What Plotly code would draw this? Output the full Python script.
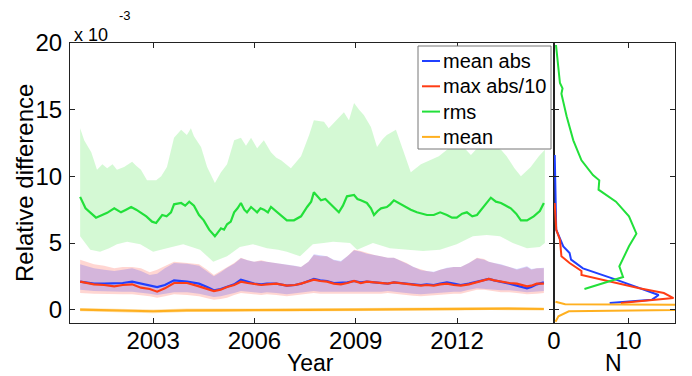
import plotly.graph_objects as go

W, H = 692, 376

# rms (green) time series
rms_year = [2000.84, 2001.00, 2001.31, 2001.50, 2001.64, 2001.85, 2002.05, 2002.20, 2002.35, 2002.50,
            2002.64, 2002.80, 2002.97, 2003.09, 2003.27, 2003.40, 2003.53, 2003.62, 2003.83, 2003.95,
            2004.07, 2004.21, 2004.36, 2004.50, 2004.66, 2004.83, 2005.01, 2005.10, 2005.19, 2005.30,
            2005.40, 2005.50, 2005.60, 2005.70, 2005.78, 2005.90, 2006.08, 2006.18, 2006.28, 2006.40,
            2006.49, 2006.67, 2006.80, 2006.96, 2007.17, 2007.38, 2007.56, 2007.68, 2007.76, 2007.88,
            2007.97, 2008.10, 2008.27, 2008.40, 2008.50, 2008.62, 2008.74, 2008.95, 2009.05, 2009.15,
            2009.33, 2009.45, 2009.54, 2009.65, 2009.75, 2009.92, 2010.02, 2010.13, 2010.34, 2010.50,
            2010.63, 2010.81, 2010.95, 2011.11, 2011.31, 2011.50, 2011.70, 2011.85, 2011.99, 2012.15,
            2012.29, 2012.45, 2012.59, 2012.79, 2012.90, 2013.00, 2013.15, 2013.30, 2013.45, 2013.59,
            2013.75, 2013.89, 2014.07, 2014.27, 2014.45, 2014.57]
rms_val = [8.46, 7.6, 6.9, 7.1, 7.26, 7.6, 7.3, 7.5, 7.7, 7.5,
           7.26, 7.0, 6.6, 6.5, 7.1, 7.0, 7.3, 7.9, 8.0, 7.8,
           8.1, 7.8, 7.1, 6.7, 6.0, 5.5, 6.1, 6.0, 6.4, 6.6,
           7.3, 7.6, 8.0, 7.5, 7.3, 7.7, 7.3, 7.6, 7.5, 7.3,
           7.7, 7.3, 7.0, 6.7, 6.7, 7.0, 7.7, 8.1, 8.8, 8.5,
           8.2, 8.3, 7.9, 7.6, 7.3, 7.8, 8.5, 8.6, 8.3, 8.2,
           8.0, 7.6, 7.1, 7.4, 7.6, 7.7, 7.9, 8.2, 7.9, 7.7,
           7.5, 7.3, 7.2, 7.1, 7.1, 7.3, 7.1, 6.9, 6.9, 7.2,
           7.3, 7.0, 7.1, 7.7, 8.1, 8.4, 8.1, 8.0, 7.8, 7.6,
           7.2, 6.7, 6.7, 7.0, 7.4, 8.0]

rms_hi_year = [2000.84, 2000.96, 2001.17, 2001.34, 2001.50, 2001.64, 2001.80, 2001.93, 2002.14, 2002.38,
               2002.50, 2002.64, 2002.82, 2003.09, 2003.24, 2003.41, 2003.62, 2003.83, 2004.00, 2004.12,
               2004.21, 2004.42, 2004.60, 2004.83, 2005.01, 2005.19, 2005.40, 2005.60, 2005.75, 2005.90,
               2006.08, 2006.28, 2006.49, 2006.65, 2006.79, 2007.08, 2007.38, 2007.62, 2007.76, 2008.06,
               2008.20, 2008.36, 2008.50, 2008.65, 2008.80, 2008.95, 2009.10, 2009.24, 2009.45, 2009.63,
               2009.80, 2009.92, 2010.19, 2010.43, 2010.63, 2010.93, 2011.22, 2011.46, 2011.70, 2011.90,
               2012.11, 2012.41, 2012.70, 2013.09, 2013.30, 2013.47, 2013.70, 2013.89, 2014.18, 2014.42,
               2014.60]
rms_hi = [13.6, 12.7, 11.8, 10.5, 10.9, 10.6, 10.9, 10.5, 10.7, 11.1,
          10.8, 10.5, 9.7, 9.7, 10.0, 10.7, 12.9, 13.5, 13.1, 13.6,
          13.0, 12.2, 10.7, 9.5, 10.3, 10.9, 12.7, 12.9, 12.3, 12.9,
          12.1, 12.7, 11.8, 11.4, 11.2, 10.6, 11.5, 13.1, 14.2, 14.1,
          13.6, 14.0, 14.4, 14.8, 14.2, 15.5, 15.0, 14.6, 13.7, 12.2,
          12.8, 13.1, 13.5, 11.8, 10.3, 10.9, 11.2, 11.5, 12.0, 12.6,
          12.4, 11.6, 12.4, 12.2, 12.0, 11.5, 10.6, 10.0, 10.7, 11.5,
          12.0]

rms_lo_year = [2000.84, 2001.14, 2001.43, 2001.70, 2001.93, 2002.23, 2002.62, 2003.00, 2003.20, 2003.41,
               2003.89, 2004.15, 2004.39, 2004.78, 2005.19, 2005.57, 2005.96, 2006.37, 2006.70, 2006.96,
               2007.35, 2007.73, 2008.05, 2008.33, 2008.83, 2009.04, 2009.51, 2010.01, 2010.51, 2010.99,
               2011.49, 2011.99, 2012.47, 2012.88, 2013.27, 2013.65, 2014.07, 2014.45, 2014.60]
rms_lo = [5.5, 4.5, 4.35, 4.6, 4.9, 5.1, 4.9, 4.35, 4.5, 4.6,
          4.9, 4.7, 4.5, 3.6, 4.0, 4.7, 4.9, 4.6, 4.5, 4.35,
          4.0, 4.9, 5.0, 5.1, 5.0, 4.5, 5.0, 4.6, 4.5, 4.4,
          4.5, 4.9, 5.5, 5.6, 5.5, 5.0, 4.6, 4.7, 5.0]

# mean abs (blue) and max abs/10 (red), shared time grid
ab_year = [2000.84, 2001.25, 2001.55, 2001.85, 2002.10, 2002.38, 2002.64, 2002.90, 2003.12, 2003.35,
           2003.62, 2004.01, 2004.36, 2004.60, 2004.80, 2005.00, 2005.19, 2005.40, 2005.60, 2005.80,
           2005.99, 2006.20, 2006.37, 2006.65, 2006.96, 2007.20, 2007.38, 2007.60, 2007.76, 2007.95,
           2008.15, 2008.35, 2008.56, 2008.75, 2008.95, 2009.15, 2009.33, 2009.55, 2009.75, 2009.95,
           2010.13, 2010.30, 2010.51, 2010.70, 2010.93, 2011.10, 2011.31, 2011.50, 2011.70, 2011.90,
           2012.11, 2012.35, 2012.59, 2012.80, 2012.94, 2013.10, 2013.30, 2013.55, 2013.77, 2014.07,
           2014.20, 2014.36, 2014.57]
max_val = [2.1, 1.9, 1.85, 1.75, 1.85, 1.9, 1.65, 1.55, 1.35, 1.6,
           2.0, 2.0, 1.75, 1.55, 1.4, 1.5, 1.7, 1.85, 2.1, 2.0,
           1.95, 1.85, 1.9, 1.95, 1.8, 1.85, 1.95, 2.1, 2.25, 2.15,
           2.1, 1.95, 1.9, 2.0, 2.15, 2.0, 2.1, 2.05, 2.0, 1.95,
           2.05, 2.0, 1.9, 1.85, 1.8, 1.85, 1.8, 1.9, 1.95, 1.85,
           1.8, 1.9, 2.05, 2.2, 2.3, 2.2, 2.1, 2.0, 1.95, 1.75,
           1.8, 1.95, 1.95]
max_hi = [3.75, 3.4, 3.3, 3.1, 3.2, 3.2, 3.1, 2.8, 3.0, 3.3,
          3.6, 3.5, 3.4, 3.0, 2.6, 2.9, 3.2, 3.5, 3.9, 3.7,
          3.6, 3.7, 3.6, 3.5, 3.4, 3.3, 3.2, 3.6, 4.1, 4.0,
          4.0, 3.7, 3.6, 4.0, 4.5, 4.4, 4.25, 4.1, 4.0, 3.9,
          3.9, 3.7, 3.5, 3.2, 3.0, 2.9, 2.8, 3.0, 3.1, 3.2,
          3.2, 3.5, 3.9, 3.8, 3.6, 3.5, 3.4, 3.2, 3.0, 3.2,
          3.0, 3.1, 3.1]
max_lo = [1.25, 1.2, 1.2, 1.15, 1.15, 1.15, 1.1, 1.0, 0.9, 1.0,
          1.15, 1.1, 1.0, 0.85, 0.75, 0.8, 0.9, 1.1, 1.25, 1.2,
          1.15, 1.1, 1.15, 1.1, 1.0, 1.05, 1.1, 1.2, 1.25, 1.2,
          1.2, 1.15, 1.15, 1.2, 1.2, 1.15, 1.15, 1.2, 1.2, 1.25,
          1.25, 1.15, 1.1, 1.05, 1.0, 1.0, 1.05, 1.1, 1.15, 1.2,
          1.2, 1.35, 1.5, 1.5, 1.45, 1.4, 1.3, 1.3, 1.25, 1.15,
          1.15, 1.2, 1.25]
mabs_val = [2.1, 1.95, 1.95, 1.95, 2.0, 2.1, 1.95, 1.85, 1.7, 1.85,
            2.2, 2.1, 1.95, 1.7, 1.45, 1.55, 1.7, 1.9, 2.25, 2.1,
            1.95, 1.9, 1.95, 1.95, 1.8, 1.85, 1.95, 2.15, 2.3, 2.2,
            2.15, 2.0, 2.0, 2.05, 2.15, 2.05, 2.1, 2.05, 2.0, 1.95,
            2.05, 2.0, 1.95, 1.9, 1.85, 1.9, 1.85, 1.95, 2.05, 1.95,
            1.85, 1.95, 2.1, 2.25, 2.3, 2.2, 2.1, 1.95, 1.8, 1.6,
            1.7, 1.9, 2.05]
mabs_hi = [3.4, 3.1, 3.0, 2.9, 3.0, 3.1, 2.9, 2.6, 2.7, 3.1,
           3.5, 3.45, 3.3, 2.9, 2.5, 2.8, 3.15, 3.45, 3.85, 3.7,
           3.6, 3.65, 3.6, 3.5, 3.4, 3.3, 3.2, 3.6, 4.15, 4.05,
           4.0, 3.75, 3.65, 4.0, 4.45, 4.35, 4.2, 4.1, 4.0, 3.9,
           3.9, 3.7, 3.45, 3.2, 2.95, 2.9, 2.85, 3.0, 3.15, 3.2,
           3.2, 3.5, 3.85, 3.75, 3.6, 3.5, 3.4, 3.2, 3.05, 3.25,
           3.05, 3.1, 3.15]
mabs_lo = [1.5, 1.4, 1.4, 1.35, 1.35, 1.35, 1.3, 1.2, 1.1, 1.2,
           1.3, 1.3, 1.2, 1.05, 0.95, 1.0, 1.1, 1.25, 1.4, 1.35,
           1.3, 1.25, 1.3, 1.25, 1.15, 1.2, 1.25, 1.35, 1.4, 1.35,
           1.35, 1.3, 1.3, 1.35, 1.35, 1.3, 1.3, 1.35, 1.35, 1.4,
           1.4, 1.3, 1.25, 1.2, 1.15, 1.15, 1.2, 1.25, 1.3, 1.35,
           1.35, 1.5, 1.6, 1.6, 1.55, 1.5, 1.45, 1.45, 1.4, 1.3,
           1.3, 1.35, 1.4]

# mean (orange)
mean_year = [2000.84, 2001.5, 2002.5, 2003.0, 2004.0, 2005.0, 2006.0, 2007.0, 2008.0, 2009.0,
             2010.0, 2011.0, 2012.0, 2013.0, 2013.5, 2014.57]
mean_val = [0.0, -0.05, -0.1, -0.12, -0.05, -0.05, 0.0, -0.02, 0.0, 0.0,
            0.02, 0.03, 0.05, 0.1, 0.08, 0.05]
mean_hi = [0.12, 0.08, 0.04, 0.02, 0.08, 0.08, 0.12, 0.1, 0.12, 0.12,
           0.14, 0.15, 0.17, 0.22, 0.2, 0.17]
mean_lo = [-0.12, -0.18, -0.24, -0.26, -0.18, -0.18, -0.12, -0.14, -0.12, -0.12,
           -0.1, -0.09, -0.07, -0.02, -0.04, -0.07]

# distributions (right panel): counts N against value
h_rms_n = [0.27, 0.8, 1.15, 1.0, 1.7, 2.6, 3.7, 5.25, 6.1, 6.0, 8.35, 10.1, 11.1, 10.1, 8.8, 9.3, 4.1]
h_rms_v = [19.85, 17.0, 16.6, 16.2, 14.5, 12.7, 11.2, 10.1, 9.7, 9.0, 8.1, 7.0, 5.7, 4.75, 3.25, 2.45, 1.55]
h_max_n = [0.1, 0.3, 0.8, 1.0, 2.1, 3.7, 3.7, 6.35, 11.5, 14.8, 16.1, 9.0]
h_max_v = [8.0, 6.0, 5.25, 4.0, 3.5, 2.9, 2.6, 2.25, 1.6, 1.25, 0.87, 0.5]
h_mabs_n = [0.1, 0.3, 1.25, 2.1, 2.3, 3.9, 8.35, 14.1, 13.2, 7.5]
h_mabs_v = [11.6, 6.0, 4.75, 4.25, 3.75, 3.1, 2.25, 1.1, 0.75, 0.5]
h_mean_n = [0.2, 1.5, 60, 2.0, 0.6, 0.2]
h_mean_v = [0.6, 0.4, 0.25, -0.12, -0.5, -0.9]

BLUE, RED, GREEN, ORANGE = "#2040ff", "#ff3c14", "#22e03a", "#ffb020"
FONT = "Liberation Sans, Arial, sans-serif"


def band(years, hi, years_lo, lo, color, xa="x", ya="y"):
    return go.Scatter(
        x=list(years) + list(years_lo)[::-1],
        y=list(hi) + list(lo)[::-1],
        fill="toself", fillcolor=color, mode="lines", line=dict(width=0),
        hoverinfo="skip", showlegend=False, xaxis=xa, yaxis=ya,
    )


fig = go.Figure()
fig.add_trace(band(rms_hi_year, rms_hi, rms_lo_year, rms_lo, "rgba(0,220,0,0.17)"))
fig.add_trace(band(ab_year, max_hi, ab_year, max_lo, "rgba(255,50,30,0.2)"))
fig.add_trace(band(ab_year, mabs_hi, ab_year, mabs_lo, "rgba(40,50,255,0.2)"))
fig.add_trace(band(mean_year, mean_hi, mean_year, mean_lo, "rgba(255,176,32,0.35)"))

for xs, ys, c in [(ab_year, mabs_val, BLUE), (ab_year, max_val, RED),
                  (rms_year, rms_val, GREEN), (mean_year, mean_val, ORANGE)]:
    fig.add_trace(go.Scatter(x=xs, y=ys, mode="lines", line=dict(color=c, width=2.2),
                             showlegend=False))

for xs, ys, c in [(h_mabs_n, h_mabs_v, BLUE), (h_max_n, h_max_v, RED),
                  (h_rms_n, h_rms_v, GREEN), (h_mean_n, h_mean_v, ORANGE)]:
    fig.add_trace(go.Scatter(x=xs, y=ys, mode="lines", line=dict(color=c, width=2),
                             showlegend=False, xaxis="x2", yaxis="y2"))

ydom = [1 - 323 / H, 1 - 43 / H]
axis_common = dict(showgrid=False, zeroline=False, showline=True, linecolor="#222",
                   linewidth=1.2, ticks="inside", ticklen=5, tickcolor="#222",
                   automargin=False,
                   tickfont=dict(family=FONT, size=24, color="black"))

fig.update_layout(
    width=W, height=H,
    margin=dict(l=0, r=0, t=0, b=0, pad=0),
    paper_bgcolor="white", plot_bgcolor="white",
    showlegend=False,
    xaxis=dict(domain=[70 / W, 554 / W], range=[2000.54, 2014.87],
               tickvals=[2003, 2006, 2009, 2012], mirror="ticks",
               ticklabelstandoff=-4, **axis_common),
    yaxis=dict(domain=ydom, range=[-1, 20], tickvals=[0, 5, 10, 15, 20],
               mirror="ticks", ticklabelstandoff=2, **axis_common),
    xaxis2=dict(domain=[554 / W, 675 / W], range=[0, 16.3], tickvals=[0, 10],
                anchor="y2", mirror="ticks", ticklabelstandoff=-4, **axis_common),
    yaxis2=dict(domain=ydom, range=[-1, 20], tickvals=[0, 5, 10, 15, 20],
                anchor="x2", showticklabels=False, mirror="ticks", **axis_common),
)

ann = [
    dict(text="Relative difference", x=24 / W, y=1 - 183 / H, textangle=-90, font_size=24),
    dict(text="Year", x=310 / W, y=1 - 363 / H, font_size=23),
    dict(text="N", x=613 / W, y=1 - 363 / H, font_size=23),
    dict(text="x 10", x=72 / W, y=1 - 35 / H, xanchor="left", font_size=18),
    dict(text="-3", x=117 / W, y=1 - 16 / H, xanchor="left", font_size=13),
]
for a in ann:
    a.setdefault("xanchor", "center")
    fig.add_annotation(xref="paper", yref="paper", showarrow=False, yanchor="middle",
                       font=dict(family=FONT, size=a.pop("font_size"), color="black"), **a)

# legend box drawn by hand (MATLAB style: short line samples)
fig.add_shape(type="rect", xref="paper", yref="paper", x0=418 / W, x1=551 / W,
              y0=1 - 149 / H, y1=1 - 46 / H, line=dict(color="#777", width=1),
              fillcolor="white", layer="above")
legend_items = [("mean abs", BLUE), ("max abs/10", RED), ("rms", GREEN), ("mean", ORANGE)]
for i, (name, c) in enumerate(legend_items):
    yy = 1 - (61 + 25.3 * i) / H
    fig.add_shape(type="line", xref="paper", yref="paper", x0=422 / W, x1=440 / W,
                  y0=yy, y1=yy, line=dict(color=c, width=2), layer="above")
    fig.add_annotation(xref="paper", yref="paper", x=441 / W, y=yy, text=name,
                       showarrow=False, xanchor="left", yanchor="middle",
                       font=dict(family=FONT, size=20, color="black"))

fig.write_html("out.html", config={"displayModeBar": False},
               post_script="document.body.style.margin='0px';")
